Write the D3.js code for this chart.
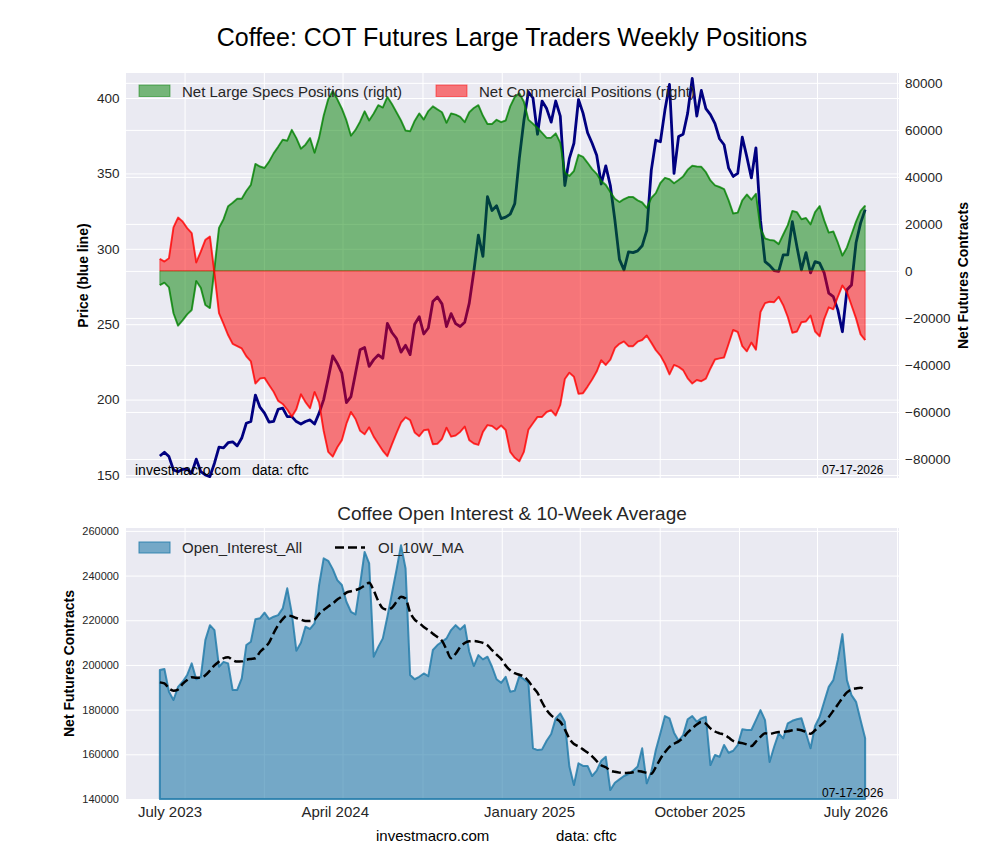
<!DOCTYPE html>
<html>
<head>
<meta charset="utf-8">
<script src="https://cdn.jsdelivr.net/npm/d3@7"></script>
<style>
  body { margin: 0; background: #fff; }
  svg { display: block; font-family: "Liberation Sans", Arial, sans-serif; }
</style>
</head>
<body>
<svg id="chart" width="1000" height="860"></svg>
<script>
// weekly COT report dates start here (one value per week in every series)
const firstWeek = new Date(2023, 6, 25);

const price = [
  162.6, 165.1, 162.2, 153.3, 152.2, 153.8, 153.8, 151.2, 160.5, 152.2,
  150, 148.9, 157.8, 168.5, 168, 171.4, 172, 169.3, 174.5, 184.3,
  185.5, 203, 195, 191, 185, 185.5, 193.6, 194.3, 188.7, 188.7,
  185.4, 183.8, 185.5, 186.5, 183.8, 191, 200, 214, 229, 224,
  217.5, 198, 202, 217.5, 233, 234.5, 222, 226.5, 229.6, 227.4,
  250.5, 244.5, 240.5, 231.5, 236, 229.8, 250, 255, 243.5, 247.5,
  265, 268, 263.5, 248.4, 257, 250.4, 248.5, 251.3, 264, 285,
  309, 295, 334.6, 325.4, 328.5, 320, 321, 323, 330, 360,
  385, 404, 400, 376, 398, 393, 384, 398, 388, 342,
  360, 370, 399, 390, 377, 370, 362, 343, 355, 342,
  319, 293, 286, 298, 297.5, 298.6, 302, 312, 352, 372,
  371, 392, 409, 350, 374.5, 376, 390, 413, 388, 405,
  393, 389, 383, 373, 369, 353.5, 348, 350, 374, 361,
  347, 367, 319, 291.5, 289, 285.6, 285, 296, 296, 318,
  301.5, 286, 297.5, 284, 291.5, 290.5, 284, 270.6, 268.3, 259.5,
  245, 272.8, 276, 304, 317, 326
];

const netLargeSpecs = [
  -6000, -5000, -7000, -18000, -23300, -21000, -18500, -16600, -4300, -7200,
  -14500, -15800, 1000, 18300, 22000, 27500, 29000, 30700, 30700, 34000,
  36600, 45500, 44400, 43800, 46500, 50000, 52800, 55800, 55400, 60000,
  56500, 52000, 53700, 56500, 50300, 56700, 66000, 73000, 76500, 73000,
  69000, 64000, 57500, 60000, 63500, 67900, 64000, 67000, 70500, 69500,
  74000, 71000, 67500, 64000, 59700, 59400, 63800, 67000, 64400, 68000,
  70000, 68700, 67500, 63000, 67000, 66500, 65500, 63300, 67500, 69300,
  70500, 66000, 62500, 62500, 64300, 63300, 64000, 70000, 74000, 75600,
  72000, 64300, 62600, 60800, 58700, 56600, 56700, 58500, 54500, 41800,
  40400, 42500, 49400, 48500, 46000, 43300, 41300, 38200, 36600, 33600,
  30700, 29300, 30500, 31400, 31400, 30000, 29100, 26800, 31000, 33100,
  37400, 39600, 39000, 37300, 38700, 40200, 43000, 44700, 44400, 44300,
  42000, 38500, 36400, 35700, 34800, 30000, 24400, 24800, 30000, 32500,
  30300, 32800, 18000, 13800, 13200, 12900, 11400, 15500, 19500, 25500,
  25000, 22000, 22500, 19800, 25000, 27600, 21500, 16300, 16800, 12000,
  6500, 10000, 15500, 21000, 25500, 27800
];

const netCommercial = [
  5100, 4000, 5400, 18500, 22700, 21000, 18200, 16100, 3600, 8200,
  13200, 14600, -1000, -18000, -22500, -27300, -31000, -32000, -33000, -36300,
  -38500, -47900, -45800, -45500, -48500, -51400, -55300, -56600, -59000, -62000,
  -58800, -52500, -55800, -58400, -51500, -56000, -68000, -77000, -79000, -75000,
  -72000, -65000, -60000, -63000, -68000, -69500, -66500, -70500, -73500, -76500,
  -78800, -73800, -69000, -64500, -62300, -63500, -68700, -70300, -67800, -67500,
  -73700, -73500, -71500, -66700, -70500, -70000, -68500, -66200, -72000, -73400,
  -74000, -68500, -65600, -66000, -67500, -65800, -67700, -77000, -79500, -81000,
  -77000, -67500, -64800, -62100, -62100, -60000, -59300, -61500, -57000, -46000,
  -43300, -45000, -52300, -52000, -49200, -46200, -42800, -38000, -40000, -37700,
  -32800, -31000, -30000, -32000, -32000, -30100, -29400, -27500, -30500, -33700,
  -36000, -39500, -44000, -40000, -40800, -42200, -45700, -47900, -46400, -46900,
  -45800, -41500, -37700, -37200, -36800, -31000, -25100, -26000, -32000, -34200,
  -30500, -33500, -17500, -13700, -13100, -13300, -11000, -14600, -19600, -26300,
  -25800, -21800, -21500, -19000, -25800, -27800, -20500, -15500, -16300, -11000,
  -6200, -9000, -14600, -20200, -27000, -29400
];

const openInterest = [
  197700, 198200, 188000, 184300, 190200, 192500, 195500, 200700, 193600, 194700,
  211100, 217800, 215600, 199200, 201400, 200700, 188800, 188800, 194000, 208900,
  210400, 220500, 220900, 223400, 220500, 221600, 222300, 225300, 234300, 223100,
  206400, 209900, 217100, 216100, 218600, 235800, 247700, 246600, 242900, 238000,
  235800, 228300, 223800, 222600, 236000, 250600, 245500, 203700, 208100, 211900,
  221600, 232000, 242500, 253600, 243200, 195500, 193600, 194700, 196200, 195000,
  206700, 208900, 210400, 211900, 215600, 217800, 215900, 217800, 205900, 199500,
  204400, 202500, 203700, 199200, 193600, 192000, 194700, 188000, 188500, 195000,
  193600, 192000, 162700, 161900, 162200, 166100, 169100, 176100, 178300, 174600,
  154500, 146300, 156000, 154800, 154800, 150300, 152700, 157100, 158900, 144000,
  147300, 148800, 150300, 151200, 152700, 154500, 162700, 147000, 152200, 161900,
  169400, 177100, 176100, 169700, 166100, 168600, 175700, 177100, 174600, 176100,
  176800, 155200, 159700, 158900, 164200, 160700, 161600, 164200, 171200, 170900,
  170900, 175300, 179800, 175300, 156600, 163400, 169400, 167200, 173900, 175000,
  175700, 176100, 169400, 162700, 172700, 176800, 183500, 190200, 193200, 202200,
  213800, 193200, 186500, 183500, 175300, 167200
];

const oiMA10 = [
  192200, 191700, 189500, 188500, 189000, 191500, 193300, 194500, 194300, 194300,
  195400, 197500, 199800, 201500, 203000, 203500, 202200, 201500, 201600, 202300,
  202700, 203000, 205800, 207700, 210000, 214200, 217800, 220500, 222200, 221800,
  221000, 220300, 219700, 219700, 220300, 222900, 224600, 226200, 227500, 229300,
  230600, 232400, 233000, 233500, 234300, 235500, 236800, 233300, 228600, 225400,
  224800, 225600, 228200, 230500, 229700, 223500, 220300, 218800, 217000, 215600,
  214000, 212500, 210800, 206900, 203000, 205000, 208000, 209800, 210600, 210700,
  210400, 209900, 208800, 206600, 204600, 202700, 199700, 197600, 196300, 195600,
  194800, 192800, 190000, 187500, 183300, 179800, 177400, 176000, 174500, 171200,
  167000, 164600, 163600, 162200, 160800, 159100, 157000, 155100, 154200, 152700,
  152200, 151800, 151600, 151700, 152000, 152500, 152200, 151700, 151300, 154300,
  158000, 160900, 163300, 164700, 165800, 167400, 169800, 171600, 173300, 174500,
  173700, 171600, 170200, 169400, 168800, 167500, 166000, 165400, 165000, 164400,
  163700, 165700, 167800, 169400, 169100, 169600, 170000, 170100, 170300, 170800,
  171100, 170800, 170000, 169200, 170800, 172600, 174400, 176700, 179500, 182300,
  185200, 187700, 189000, 189500, 189800, 188800
];

const tickLabels = ["July 2023", "April 2024", "January 2025", "October 2025", "July 2026"];
const tickDates = [new Date(2023, 7, 9), new Date(2024, 3, 19), new Date(2025, 1, 12), new Date(2025, 10, 1), new Date(2026, 5, 29)];
const priceTicks = [150, 200, 250, 300, 350, 400];
const netTicks = [-80000, -60000, -40000, -20000, 0, 20000, 40000, 60000, 80000];
const oiTicks = [140000, 160000, 180000, 200000, 220000, 240000, 260000];

const weeks = price.map((_, i) => d3.timeDay.offset(firstWeek, 7 * i));

const TXT = "#262626";
const BG = "#eaeaf2";
const OI_COL = "#247caa";

const svg = d3.select("#chart");
svg.append("rect").attr("width", 1000).attr("height", 860).attr("fill", "#fff");

const P = { left: 126, right: 899, top: 73, bottom: 478 };
const Q = { left: 126, right: 899, top: 528, bottom: 799 };

const span = weeks[weeks.length - 1] - weeks[0];
const x = d3.scaleTime()
  .domain([new Date(+weeks[0] - 0.048 * span), new Date(+weeks[weeks.length - 1] + 0.048 * span)])
  .range([P.left, P.right]);

const yPrice = d3.scaleLinear().domain([148, 416.6]).range([P.bottom, P.top]);
const yNet = d3.scaleLinear().domain([-88100, 84200]).range([P.bottom, P.top]);
const yOI = d3.scaleLinear().domain([140000, 261300]).range([Q.bottom, Q.top]);

function gridBox(box) {
  svg.append("rect")
    .attr("x", box.left).attr("y", box.top)
    .attr("width", box.right - box.left).attr("height", box.bottom - box.top)
    .attr("fill", BG);
  svg.append("g")
    .attr("transform", `translate(0,${box.bottom})`)
    .call(d3.axisBottom(x).ticks(d3.timeMonth.every(4)).tickSize(-(box.bottom - box.top)).tickFormat(""))
    .call(g => g.select(".domain").remove())
    .call(g => g.selectAll(".tick line").attr("stroke", "#fff").attr("stroke-width", 1));
}

function hGrid(scale, ticks, box) {
  svg.append("g")
    .attr("transform", `translate(${box.left},0)`)
    .call(d3.axisLeft(scale).tickValues(ticks).tickSize(-(box.right - box.left)).tickFormat(""))
    .call(g => g.select(".domain").remove())
    .call(g => g.selectAll(".tick line").attr("stroke", "#fff").attr("stroke-width", 1));
}

function styleTicks(g, size) {
  g.select(".domain").remove();
  g.selectAll(".tick line").remove();
  g.attr("font-family", null).attr("font-size", null);
  g.selectAll("text").attr("fill", TXT).attr("font-size", size);
}

// ---------- top panel: price + net positions ----------
gridBox(P);
hGrid(yPrice, priceTicks, P);
hGrid(yNet, netTicks, P);

svg.append("path")
  .datum(price)
  .attr("fill", "none")
  .attr("stroke", "#000080")
  .attr("stroke-width", 2.8)
  .attr("stroke-linejoin", "round")
  .attr("d", d3.line().x((d, i) => x(weeks[i])).y(d => yPrice(d)));

const netArea = vals => d3.area()
  .x((d, i) => x(weeks[i]))
  .y0(yNet(0))
  .y1(d => yNet(d))(vals);
const netLine = vals => d3.line()
  .x((d, i) => x(weeks[i]))
  .y(d => yNet(d))(vals);

[[netLargeSpecs, "green"], [netCommercial, "red"]].forEach(([vals, col]) => {
  svg.append("path")
    .attr("d", netArea(vals))
    .attr("fill", col).attr("fill-opacity", 0.5)
    .attr("stroke", col).attr("stroke-opacity", 0.5).attr("stroke-width", 1);
  svg.append("path")
    .attr("d", netLine(vals))
    .attr("fill", "none")
    .attr("stroke", col).attr("stroke-opacity", 0.7).attr("stroke-width", 2)
    .attr("stroke-linejoin", "round");
});

svg.append("g")
  .attr("transform", `translate(${P.left},0)`)
  .call(d3.axisLeft(yPrice).tickValues(priceTicks).tickSize(0).tickPadding(6.5))
  .call(g => styleTicks(g, "13.5px"));

svg.append("g")
  .attr("transform", `translate(${P.right},0)`)
  .call(d3.axisRight(yNet).tickValues(netTicks).tickSize(0).tickPadding(6)
    .tickFormat(d => d3.format("d")(d).replace("-", "\u2212")))
  .call(g => styleTicks(g, "13.5px"));

svg.append("text")
  .attr("x", 512).attr("y", 46)
  .attr("text-anchor", "middle")
  .attr("font-size", "25px")
  .attr("fill", "#000")
  .text("Coffee: COT Futures Large Traders Weekly Positions");

svg.append("text")
  .attr("transform", `translate(87.5,${(P.top + P.bottom) / 2}) rotate(-90)`)
  .attr("text-anchor", "middle")
  .attr("font-size", "14px").attr("font-weight", "bold").attr("fill", "#000")
  .text("Price (blue line)");

svg.append("text")
  .attr("transform", `translate(968,${(P.top + P.bottom) / 2}) rotate(-90)`)
  .attr("text-anchor", "middle")
  .attr("font-size", "14px").attr("font-weight", "bold").attr("fill", "#000")
  .text("Net Futures Contracts");

// legend (top)
[["Net Large Specs Positions (right)", "green", 139], ["Net Commercial Positions (right)", "red", 436]].forEach(([lab, col, lx]) => {
  svg.append("rect")
    .attr("x", lx).attr("y", 85).attr("width", 31).attr("height", 11.5)
    .attr("fill", col).attr("fill-opacity", 0.5)
    .attr("stroke", col).attr("stroke-opacity", 0.5);
  svg.append("text")
    .attr("x", lx + 43).attr("y", 96.5)
    .attr("font-size", "15px").attr("fill", TXT)
    .text(lab);
});

svg.append("text").attr("x", 135).attr("y", 475).attr("font-size", "14px").attr("fill", "#000").text("investmacro.com");
svg.append("text").attr("x", 252).attr("y", 475).attr("font-size", "14px").attr("fill", "#000").text("data: cftc");
svg.append("text").attr("x", 822).attr("y", 474).attr("font-size", "12px").attr("fill", "#000").text("07-17-2026");

// ---------- bottom panel: open interest ----------
gridBox(Q);
hGrid(yOI, oiTicks, Q);

svg.append("path")
  .datum(openInterest)
  .attr("fill", OI_COL).attr("fill-opacity", 0.6)
  .attr("stroke", OI_COL).attr("stroke-opacity", 0.85).attr("stroke-width", 2)
  .attr("stroke-linejoin", "round")
  .attr("d", d3.area().x((d, i) => x(weeks[i])).y0(yOI(yOI.domain()[0])).y1(d => yOI(d)));

svg.append("path")
  .datum(oiMA10)
  .attr("fill", "none")
  .attr("stroke", "#000").attr("stroke-width", 2.5)
  .attr("stroke-dasharray", "9,4")
  .attr("d", d3.line().curve(d3.curveMonotoneX).x((d, i) => x(weeks[i])).y(d => yOI(d)));

svg.append("g")
  .attr("transform", `translate(${Q.left},0)`)
  .call(d3.axisLeft(yOI).tickValues(oiTicks).tickSize(0).tickPadding(7).tickFormat(d3.format("d")))
  .call(g => styleTicks(g, "11px"));

svg.append("g")
  .attr("transform", `translate(0,${Q.bottom})`)
  .call(d3.axisBottom(x).tickValues(tickDates).tickSize(0).tickPadding(7)
    .tickFormat((d, i) => tickLabels[i]))
  .call(g => styleTicks(g, "15px"))
  .call(g => g.selectAll("text").attr("dy", "0.71em"));

svg.append("text")
  .attr("x", 512).attr("y", 520)
  .attr("text-anchor", "middle")
  .attr("font-size", "19px").attr("fill", TXT)
  .text("Coffee Open Interest & 10-Week Average");

svg.append("text")
  .attr("transform", `translate(73.5,${(Q.top + Q.bottom) / 2}) rotate(-90)`)
  .attr("text-anchor", "middle")
  .attr("font-size", "14px").attr("font-weight", "bold").attr("fill", "#000")
  .text("Net Futures Contracts");

// legend (bottom)
svg.append("rect")
  .attr("x", 139).attr("y", 542).attr("width", 31).attr("height", 11)
  .attr("fill", OI_COL).attr("fill-opacity", 0.6)
  .attr("stroke", OI_COL).attr("stroke-opacity", 0.85);
svg.append("text").attr("x", 182).attr("y", 553).attr("font-size", "15px").attr("fill", TXT).text("Open_Interest_All");
svg.append("line")
  .attr("x1", 335).attr("x2", 365).attr("y1", 547.5).attr("y2", 547.5)
  .attr("stroke", "#000").attr("stroke-width", 2.5).attr("stroke-dasharray", "9,4");
svg.append("text").attr("x", 378).attr("y", 553).attr("font-size", "15px").attr("fill", TXT).text("OI_10W_MA");

svg.append("text").attr("x", 822).attr("y", 797).attr("font-size", "12px").attr("fill", "#000").text("07-17-2026");

svg.append("text").attr("x", 376).attr("y", 841).attr("font-size", "15px").attr("fill", "#000").text("investmacro.com");
svg.append("text").attr("x", 556).attr("y", 841).attr("font-size", "15px").attr("fill", "#000").text("data: cftc");
</script>
</body>
</html>
